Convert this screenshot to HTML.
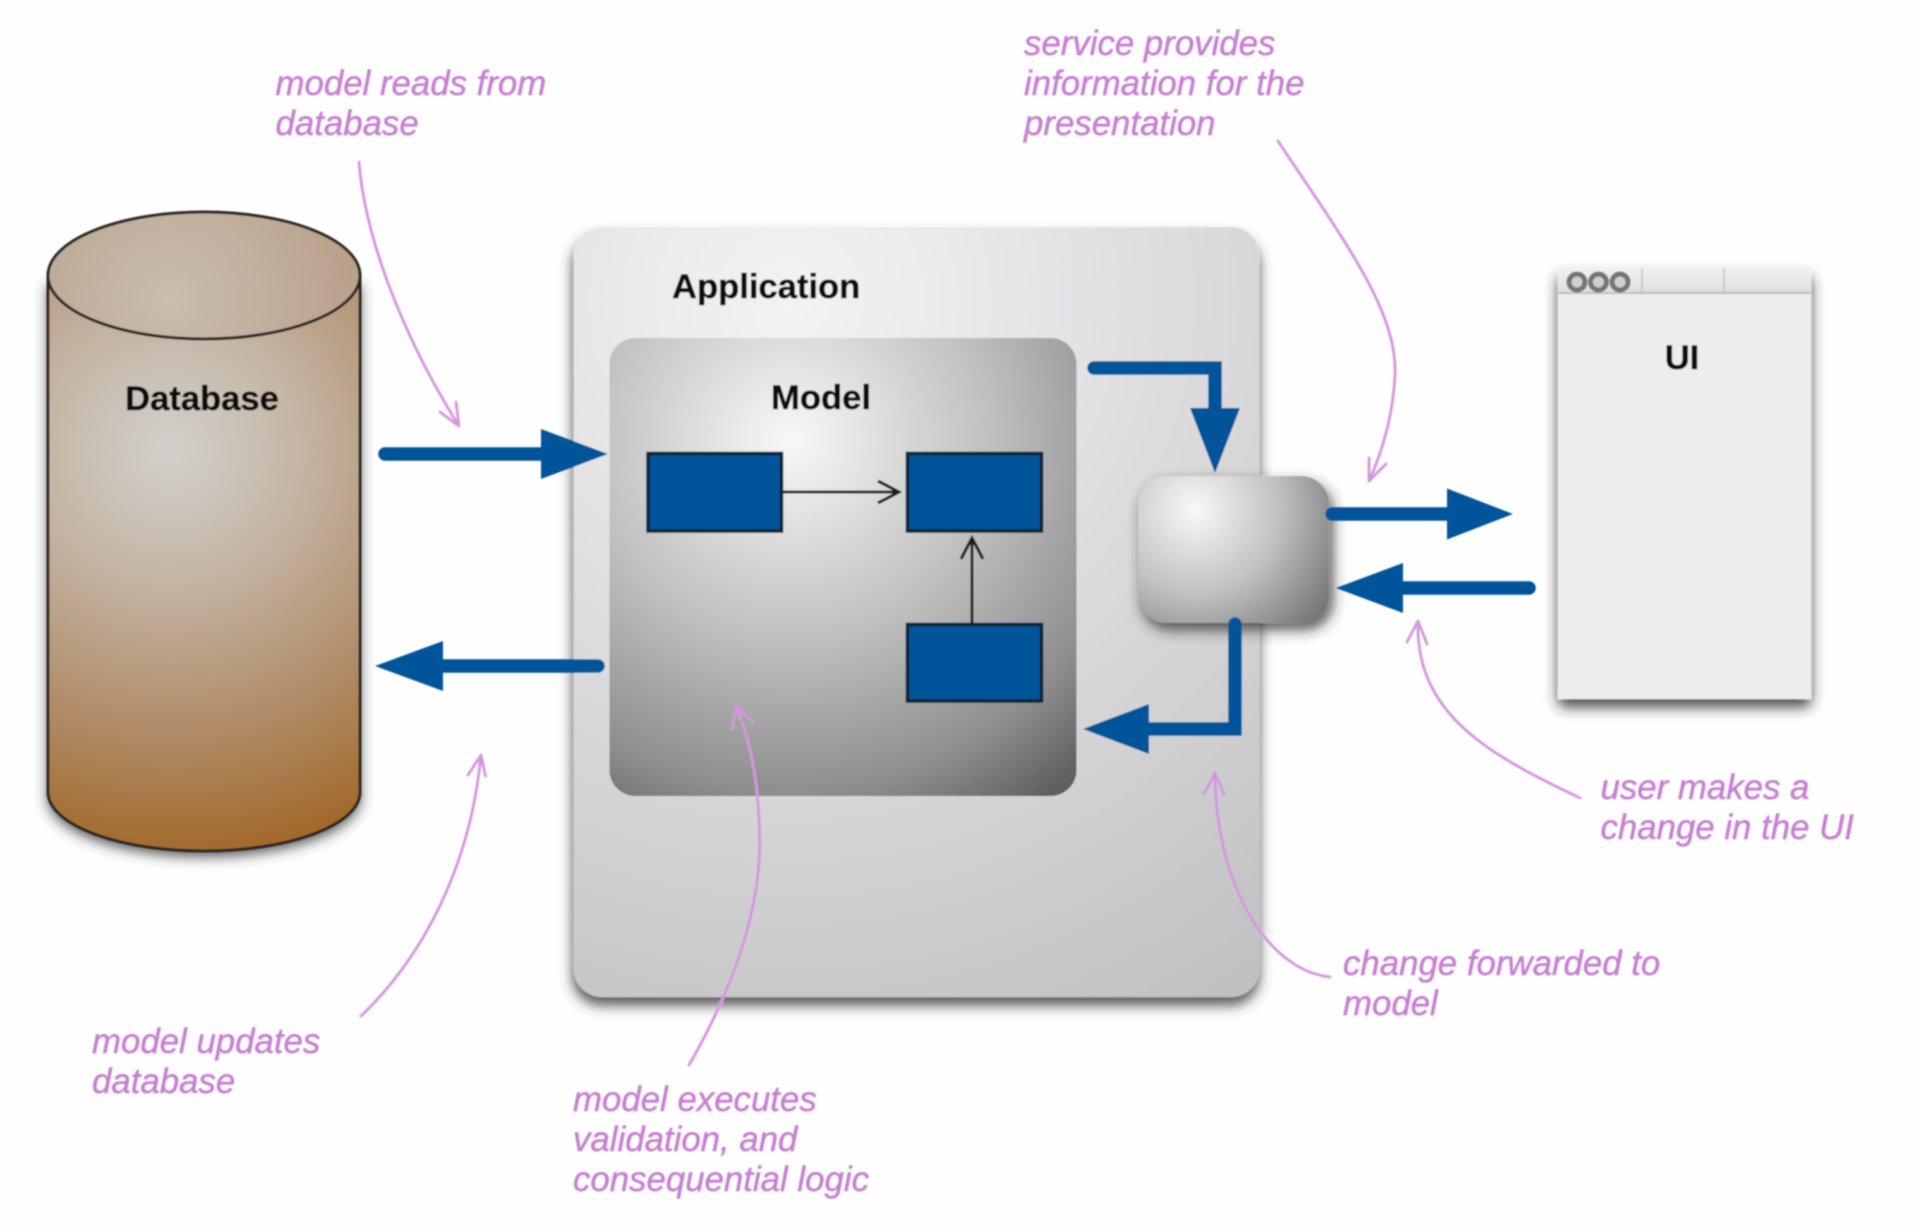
<!DOCTYPE html>
<html><head><meta charset="utf-8"><style>
html,body{margin:0;padding:0;background:#fefefe;width:1920px;height:1232px;overflow:hidden}
svg{display:block}
text{font-family:"Liberation Sans",sans-serif}
.b{font-weight:bold;font-size:34.600px;fill:#111;stroke:#111;stroke-width:.5}
.p{font-style:italic;font-size:34.800px;fill:#c77fd2;stroke:#c77fd2;stroke-width:.45}
.c{fill:none;stroke:#d596df;stroke-width:2.800;stroke-linecap:round;stroke-linejoin:round}
.bl{fill:none;stroke:#04549a;stroke-width:13.500;stroke-linecap:round;stroke-linejoin:miter}
.bh{fill:#04549a}
.r{fill:#04549a;stroke:#0e2238;stroke-width:3.500}
.k{fill:none;stroke:#1c1c1c;stroke-width:3}
</style></head><body>
<svg width="1920" height="1232" viewBox="0 0 1920 1232" xmlns="http://www.w3.org/2000/svg">
<defs>
<filter id="s" x="-20%" y="-20%" width="140%" height="140%"><feGaussianBlur stdDeviation="7"/></filter>
<filter id="soft" x="-2%" y="-2%" width="104%" height="104%"><feGaussianBlur stdDeviation="0.9"/></filter>
<radialGradient id="cy" gradientUnits="userSpaceOnUse" cx="170" cy="450" r="430">
<stop offset="0" stop-color="#d2d0cc"/><stop offset=".3" stop-color="#c4b5a5"/><stop offset=".65" stop-color="#b08c68"/><stop offset="1" stop-color="#9f631f"/>
</radialGradient>
<radialGradient id="cyt" gradientUnits="userSpaceOnUse" cx="170" cy="300" r="210">
<stop offset="0" stop-color="#c8bdb0"/><stop offset="1" stop-color="#b79e86"/>
</radialGradient>
<radialGradient id="app" gradientUnits="userSpaceOnUse" cx="790" cy="300" r="820">
<stop offset="0" stop-color="#f3f3f4"/><stop offset=".6" stop-color="#d6d6d8"/><stop offset="1" stop-color="#c0c0c2"/>
</radialGradient>
<radialGradient id="mod" gradientUnits="userSpaceOnUse" cx="790" cy="440" r="440">
<stop offset="0" stop-color="#f8f8f8"/><stop offset=".45" stop-color="#c0c0c0"/><stop offset=".8" stop-color="#8e8e8e"/><stop offset="1" stop-color="#5e5e60"/>
</radialGradient>
<radialGradient id="svc" gradientUnits="userSpaceOnUse" cx="1195" cy="510" r="170">
<stop offset="0" stop-color="#f8f8f8"/><stop offset=".5" stop-color="#c0c0c0"/><stop offset="1" stop-color="#6e6e70"/>
</radialGradient>
<linearGradient id="tb" x1="0" y1="0" x2="0" y2="1"><stop offset="0" stop-color="#f2f2f2"/><stop offset="1" stop-color="#dedede"/></linearGradient>
</defs>

<g filter="url(#soft)">
<!-- cylinder -->
<path d="M48,275 V792 A156.500,59 0 0 0 360,792 V275 Z" fill="#333" opacity=".85" filter="url(#s)" transform="translate(0,10)"/>
<path d="M48,275 V792 A156,59 0 0 0 360,792 V275 Z" fill="url(#cy)" stroke="#2a2622" stroke-width="3"/>
<ellipse cx="204" cy="275.500" rx="156" ry="63.500" fill="url(#cyt)" stroke="#2a2622" stroke-width="3"/>
<text class="b" x="202" y="410" text-anchor="middle">Database</text>

<!-- application -->
<rect x="573" y="229" width="686" height="768" rx="28" fill="#333" opacity=".85" filter="url(#s)" transform="translate(0,8)"/>
<rect x="574" y="227" width="685" height="770" rx="28" fill="url(#app)"/>
<text class="b" x="672" y="298">Application</text>

<!-- model -->
<rect x="609.500" y="338" width="467" height="458" rx="26" fill="url(#mod)"/>
<text class="b" x="821" y="409" text-anchor="middle">Model</text>
<rect class="r" x="648" y="453.500" width="133.500" height="77.500"/>
<rect class="r" x="907.500" y="453.500" width="134" height="77.500"/>
<rect class="r" x="907.500" y="624.500" width="134" height="76.500"/>
<path class="k" d="M782,492 H899 M878,481 L899,492 L878,503"/>
<path class="k" d="M972,624 V538 M961,559 L972,538 L983,559"/>

<!-- service -->
<rect x="1138" y="478" width="191" height="147" rx="28" fill="#222" opacity=".75" filter="url(#s)" transform="translate(4,5)"/>
<rect x="1138" y="476" width="191" height="147" rx="28" fill="url(#svc)"/>

<!-- ui window -->
<rect x="1558" y="268" width="253" height="431" rx="6" fill="#222" opacity=".85" filter="url(#s)" transform="translate(0,8)"/>
<rect x="1558" y="266.500" width="253" height="432.500" fill="#ededef"/>
<path d="M1558,293 V276 Q1558,266.500 1568,266.500 H1801 Q1811,266.500 1811,276 V293 Z" fill="url(#tb)"/>
<path d="M1642,268 V292 M1724,268 V292" stroke="#c4c4c4" stroke-width="1.500"/>
<path d="M1558,293 H1811" stroke="#bcbcbc" stroke-width="2"/>
<g fill="#d0d0d0" stroke="#747476" stroke-width="5">
<circle cx="1577" cy="282" r="8"/><circle cx="1598.500" cy="282" r="8"/><circle cx="1620" cy="282" r="8"/>
</g>
<text class="b" x="1682" y="369" text-anchor="middle">UI</text>

<!-- blue arrows -->
<path class="bl" d="M1094,368 H1215 V410"/><path class="bh" d="M1190,408 L1215,473 L1240,408 Z"/>
<path class="bl" d="M385,454 H545"/><path class="bh" d="M541,429 L608,454 L541,479 Z"/>
<path class="bl" d="M440,666 H598"/><path class="bh" d="M443,641 L375,666 L443,691 Z"/>
<path class="bl" d="M1235,624 V729 H1147"/><path class="bh" d="M1149,704 L1083,729 L1149,754 Z"/>
<path class="bl" d="M1332,514 H1450"/><path class="bh" d="M1447,488.500 L1513,514 L1447,539.500 Z"/>
<path class="bl" d="M1400,588 H1529"/><path class="bh" d="M1403,563 L1336,588 L1403,613 Z"/>

<!-- pink curves -->
<path class="c" d="M359,162 C365,240 405,340 459,426 M440,412 L459,426 L456,402"/>
<path class="c" d="M1278,141 C1340,235 1398,310 1395,375 C1393,415 1383,450 1369,481 M1386,464 L1369,481 L1369,458"/>
<path class="c" d="M1580,798 C1490,755 1415,715 1418,621 M1407,642 L1418,621 L1427,644"/>
<path class="c" d="M1330,977 C1265,970 1215,880 1215,773 M1204,794 L1215,773 L1224,794"/>
<path class="c" d="M689,1065 C735,985 765,900 759,820 C757,775 750,740 736,706 M732,729 L736,706 L753,722"/>
<path class="c" d="M361,1016 C420,960 470,870 481,755 M468,775 L481,755 L485.500,776"/>

<!-- pink text -->
<text class="p" x="275.500" y="95">model reads from</text>
<text class="p" x="275.500" y="135">database</text>
<text class="p" x="1024" y="55">service provides</text>
<text class="p" x="1024" y="95">information for the</text>
<text class="p" x="1024" y="135">presentation</text>
<text class="p" x="1600.500" y="799">user makes a</text>
<text class="p" x="1600.500" y="839">change in the UI</text>
<text class="p" x="1343" y="975">change forwarded to</text>
<text class="p" x="1343" y="1015">model</text>
<text class="p" x="92" y="1053">model updates</text>
<text class="p" x="92" y="1093">database</text>
<text class="p" x="573" y="1111">model executes</text>
<text class="p" x="573" y="1151">validation, and</text>
<text class="p" x="573" y="1191">consequential logic</text>
</g>
</svg>
</body></html>
